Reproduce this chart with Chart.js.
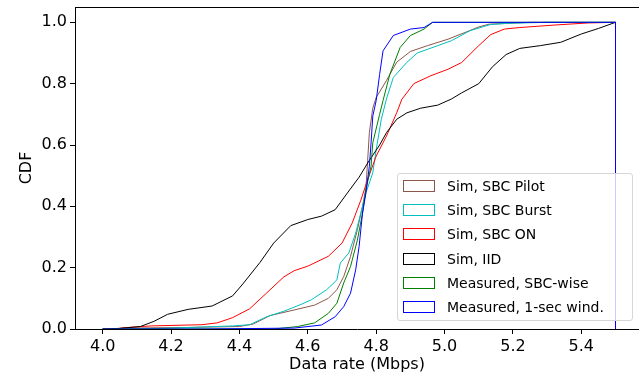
<!DOCTYPE html>
<html>
<head>
<meta charset="utf-8">
<script src="https://cdn.jsdelivr.net/npm/chart.js@4.4.1/dist/chart.umd.min.js"></script>
<style>
body{margin:0;overflow:hidden;background:#fff;}
#wrap{position:relative;width:639px;height:376px;}
#legend{position:absolute;left:397px;top:173px;width:236px;height:148px;box-sizing:border-box;
  border:1px solid #d6d6d6;border-radius:3px;background:rgba(255,255,255,0.8);
  font-family:"DejaVu Sans",sans-serif;font-size:14px;color:#000;}
.item{position:absolute;left:0;height:20px;line-height:20px;white-space:nowrap;}
.item span.box{position:absolute;left:5px;top:4px;width:30px;height:10px;border:1px solid;}
.item span.txt{position:absolute;left:49px;top:0;}
</style>
</head>
<body>
<div id="wrap">
  <canvas id="chart" width="639" height="376"></canvas>
  <div id="legend"></div>
</div>
<script>
// CDF-Kurven (x = Datenrate in Mbps, y = CDF)
const labels = ["Sim, SBC Pilot","Sim, SBC Burst","Sim, SBC ON","Sim, IID","Measured, SBC-wise","Measured, 1-sec wind."];
const colors = ["#8c564b","#00bfbf","#ff0000","#000000","#008000","#0000ff"];

const pilotX = [4.0,4.07,4.25,4.40,4.44,4.49,4.56,4.62,4.66,4.685,4.705,4.725,4.745,4.76,4.77,4.775,4.78,4.79,4.80,4.83,4.86,4.90,4.95,5.01,5.06,5.10,5.13,5.25,5.5,5.5];
const pilotY = [0,0.003,0.005,0.008,0.016,0.044,0.062,0.078,0.10,0.128,0.171,0.237,0.324,0.40,0.46,0.55,0.64,0.72,0.755,0.81,0.87,0.905,0.924,0.945,0.967,0.985,0.994,1.0,1.0,0];

const burstX = [4.0,4.10,4.20,4.38,4.43,4.48,4.53,4.58,4.61,4.655,4.685,4.695,4.72,4.74,4.755,4.77,4.79,4.80,4.815,4.83,4.85,4.89,4.92,4.98,5.02,5.075,5.135,5.19,5.30,5.5,5.5];
const burstY = [0,0,0.003,0.01,0.014,0.04,0.058,0.08,0.095,0.128,0.16,0.215,0.248,0.313,0.378,0.444,0.509,0.585,0.684,0.75,0.82,0.87,0.90,0.924,0.94,0.973,0.993,0.997,1.0,1.0,0];

const onX = [4.0,4.04,4.06,4.14,4.29,4.335,4.38,4.43,4.48,4.53,4.56,4.60,4.66,4.70,4.73,4.755,4.775,4.80,4.83,4.86,4.875,4.91,4.96,5.01,5.05,5.10,5.135,5.175,5.22,5.32,5.42,5.5,5.5];
const onY = [0,0,0.004,0.01,0.014,0.02,0.037,0.066,0.118,0.17,0.19,0.205,0.237,0.28,0.346,0.42,0.487,0.564,0.629,0.705,0.749,0.80,0.826,0.847,0.869,0.924,0.96,0.978,0.983,0.991,0.998,1.0,0];

const iidX = [4.0,4.01,4.05,4.11,4.15,4.19,4.25,4.32,4.38,4.41,4.46,4.50,4.55,4.60,4.64,4.68,4.72,4.75,4.78,4.81,4.83,4.86,4.89,4.93,4.98,5.02,5.05,5.10,5.14,5.18,5.22,5.28,5.34,5.40,5.45,5.5,5.5];
const iidY = [0,0,0.002,0.008,0.025,0.048,0.064,0.075,0.108,0.147,0.217,0.28,0.337,0.357,0.368,0.389,0.45,0.495,0.55,0.60,0.64,0.684,0.705,0.72,0.73,0.75,0.77,0.80,0.855,0.895,0.915,0.924,0.935,0.962,0.98,1.0,0];

const sbcX = [4.0,4.50,4.57,4.62,4.66,4.685,4.705,4.725,4.745,4.76,4.77,4.785,4.79,4.81,4.82,4.84,4.87,4.90,4.94,4.965,5.5,5.5];
const sbcY = [0,0,0.008,0.02,0.051,0.084,0.15,0.204,0.29,0.378,0.455,0.531,0.607,0.70,0.745,0.831,0.918,0.957,0.978,1.0,1.0,0];

const winX = [4.0,4.30,4.56,4.64,4.68,4.705,4.725,4.74,4.75,4.76,4.77,4.78,4.785,4.79,4.80,4.81,4.82,4.85,4.90,4.94,4.965,5.5,5.5];
const winY = [0,0,0.003,0.013,0.04,0.073,0.117,0.193,0.269,0.378,0.444,0.531,0.607,0.694,0.745,0.83,0.907,0.957,0.978,0.983,1.0,1.0,0];

const xTicks = [4.0,4.2,4.4,4.6,4.8,5.0,5.2,5.4];
const yTicks = [0.0,0.2,0.4,0.6,0.8,1.0];

const seriesX = [pilotX,burstX,onX,iidX,sbcX,winX];
const seriesY = [pilotY,burstY,onY,iidY,sbcY,winY];

Chart.defaults.font.family = "DejaVu Sans";
Chart.defaults.font.size = 16;
Chart.defaults.color = "#000";

const datasets = labels.map((lab,i)=>({
  label: lab,
  data: seriesX[i].map((x,j)=>({x:x,y:seriesY[i][j]})),
  borderColor: colors[i],
  borderWidth: 1,
  pointRadius: 0,
  tension: 0,
  fill: false,
  order: labels.length - i
}));

// obere Achsenlinie (Rahmen)
const topSpine = {
  id: "topSpine",
  afterDraw(c){
    const a = c.chartArea, ctx = c.ctx;
    ctx.save();
    ctx.strokeStyle = "#000"; ctx.lineWidth = 1;
    ctx.beginPath(); ctx.moveTo(a.left, a.top+0.5); ctx.lineTo(a.right, a.top+0.5); ctx.stroke();
    ctx.restore();
  }
};

new Chart(document.getElementById("chart"),{
  type: "line",
  data: {datasets},
  plugins: [topSpine],
  options: {
    responsive: false,
    animation: false,
    layout: {padding:{top:7,right:0,left:0,bottom:0}},
    plugins: {legend:{display:false}, tooltip:{enabled:false}},
    scales: {
      x: {
        type: "linear", min: 3.919, max: 5.5687,
        afterBuildTicks: s=>{ s.ticks = xTicks.map(v=>({value:v})); },
        afterFit: s=>{ s.height = 47; s.paddingLeft = 0; s.paddingRight = 0; },
        ticks: {callback: v=>v.toFixed(1), padding: 3, maxRotation: 0},
        grid: {drawOnChartArea:false, tickLength:5, color:"#000"},
        border: {color:"#000", width:1},
        title: {display:true, text:"Data rate (Mbps)", padding:{top:0,bottom:2}}
      },
      y: {
        min: 0, max: 1.05,
        afterBuildTicks: s=>{ s.ticks = yTicks.map(v=>({value:v})); },
        afterFit: s=>{ s.width = 75; s.paddingTop = 0; s.paddingBottom = 0; },
        ticks: {callback: v=>v.toFixed(1), padding: 3},
        grid: {drawOnChartArea:false, tickLength:5, color:"#000"},
        border: {color:"#000", width:1},
        title: {display:true, text:"CDF", padding:{top:17,bottom:0}}
      }
    }
  }
});

// Legende im Plotbereich, Kästchen wie bei Step-Histogrammen
const leg = document.getElementById("legend");
labels.forEach((lab,i)=>{
  const d = document.createElement("div");
  d.className = "item";
  d.style.top = (2 + i*24.2) + "px";
  d.innerHTML = `<span class="box" style="border-color:${colors[i]}"></span><span class="txt">${lab}</span>`;
  leg.appendChild(d);
});
</script>
</body>
</html>
